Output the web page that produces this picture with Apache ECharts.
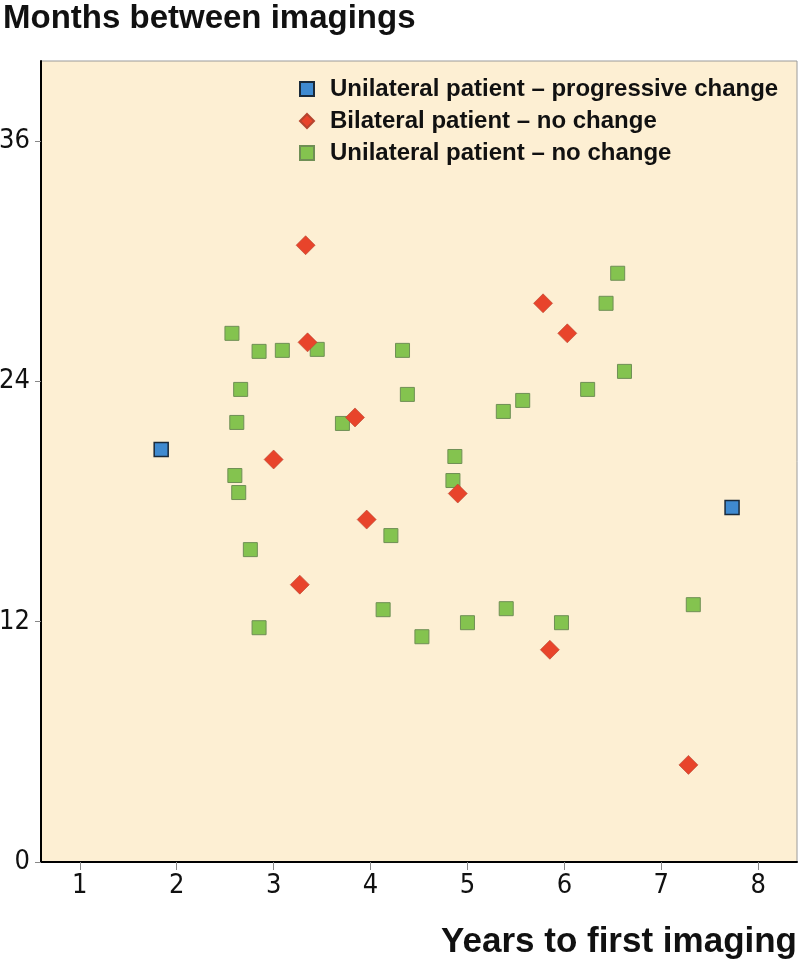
<!DOCTYPE html>
<html>
<head>
<meta charset="utf-8">
<script src="https://cdn.jsdelivr.net/npm/echarts@6/dist/echarts.min.js"></script>
<style>html,body{margin:0;padding:0;background:#fff}#c{width:800px;height:966px}</style>
</head>
<body>
<div id="c"></div>
<script>
// Data
const seriesNames = ['Unilateral patient \u2013 progressive change', 'Bilateral patient \u2013 no change', 'Unilateral patient \u2013 no change'];
const xTicks = [1, 2, 3, 4, 5, 6, 7, 8];
const yTicks = [0, 12, 24, 36];

const progressiveX = [1.84, 7.73];
const progressiveY = [20.6, 17.7];

const bilateralX = [3.33, 3.35, 3.84, 3.00, 4.90, 3.96, 3.27, 5.78, 6.03, 5.85, 7.28];
const bilateralY = [30.8, 25.95, 22.2, 20.1, 18.4, 17.1, 13.85, 27.9, 26.4, 10.6, 4.85];

const noChangeX = [2.57, 2.85, 3.09, 3.45, 4.33, 2.66, 4.38, 2.62, 3.71, 6.55, 6.43, 6.62, 6.24, 5.57, 5.37, 4.87, 4.85, 2.60, 2.64, 4.21, 2.76, 4.13, 5.00, 5.40, 4.53, 2.85, 5.97, 7.33];
const noChangeY = [26.4, 25.5, 25.55, 25.6, 25.55, 23.6, 23.35, 21.95, 21.9, 29.4, 27.9, 24.5, 23.6, 23.05, 22.5, 20.25, 19.05, 19.3, 18.45, 16.3, 15.6, 12.6, 11.95, 12.65, 11.25, 11.7, 11.95, 12.85];

const zip = (xs, ys) => xs.map((x, i) => [x, ys[i]]);

const chart = echarts.init(document.getElementById('c'));
const textFont = "'Liberation Sans',Arial,sans-serif";
const labelFont = "'Liberation Sans Narrow','DejaVu Sans Condensed','Liberation Sans',sans-serif";
chart.setOption({
  animation: false,
  backgroundColor: '#ffffff',
  title: {
    text: 'Months between imagings',
    left: 0, top: 0, padding: [2, 0, 0, 3],
    textStyle: { fontFamily: textFont, fontSize: 33, fontWeight: 'bold', color: '#111' }
  },
  grid: {
    left: 41, right: 3, top: 61, bottom: 104,
    outerBoundsMode: 'none', containLabel: false,
    show: true, backgroundColor: '#FDEFD3', borderColor: '#9a9a9a', borderWidth: 1
  },
  legend: {
    orient: 'vertical',
    left: 299, top: 77, padding: 0,
    itemWidth: 14, itemHeight: 14, itemGap: 8,
    textStyle: { fontFamily: textFont, fontSize: 24, fontWeight: 'bold', color: '#111', lineHeight: 22, padding: [0, 0, 0, 11] },
    data: [
      { name: seriesNames[0], icon: 'rect' },
      { name: seriesNames[1], icon: 'diamond' },
      { name: seriesNames[2], icon: 'rect' }
    ]
  },
  xAxis: {
    type: 'value', min: 0.6, max: 8.4,
    name: 'Years to first imaging',
    nameLocation: 'end', nameGap: 0,
    nameTextStyle: { fontFamily: textFont, fontSize: 35, fontWeight: 'bold', color: '#111', align: 'right', verticalAlign: 'top', padding: [63, 0, 0, 0] },
    splitLine: { show: false },
    axisLine: { show: true, onZero: false, lineStyle: { color: '#000', width: 2 } },
    axisTick: { show: true, length: 8, lineStyle: { color: '#888' }, customValues: xTicks },
    axisLabel: { customValues: xTicks, margin: 10, fontFamily: labelFont, fontSize: 27, color: '#111' }
  },
  yAxis: {
    type: 'value', min: 0, max: 40,
    splitLine: { show: false },
    axisLine: { show: true, onZero: false, lineStyle: { color: '#000', width: 2 } },
    axisTick: { show: true, length: 6, lineStyle: { color: '#888' }, customValues: yTicks },
    axisLabel: { customValues: yTicks, margin: 11, fontFamily: labelFont, fontSize: 27, color: '#111' }
  },
  series: [
    {
      name: seriesNames[2], type: 'scatter', symbol: 'rect', symbolSize: 14,
      itemStyle: { color: '#84C34F', borderColor: '#6f8f55', borderWidth: 1, opacity: 1 },
      data: zip(noChangeX, noChangeY), z: 2
    },
    {
      name: seriesNames[1], type: 'scatter', symbol: 'diamond', symbolSize: 19,
      itemStyle: { color: '#E8442B', borderColor: '#b5452f', borderWidth: 0.6, opacity: 1 },
      data: zip(bilateralX, bilateralY), z: 3
    },
    {
      name: seriesNames[0], type: 'scatter', symbol: 'rect', symbolSize: 14,
      itemStyle: { color: '#3F8AD0', borderColor: '#1a2a3a', borderWidth: 1.5, opacity: 1 },
      data: zip(progressiveX, progressiveY), z: 4
    }
  ]
});
</script>
</body>
</html>
